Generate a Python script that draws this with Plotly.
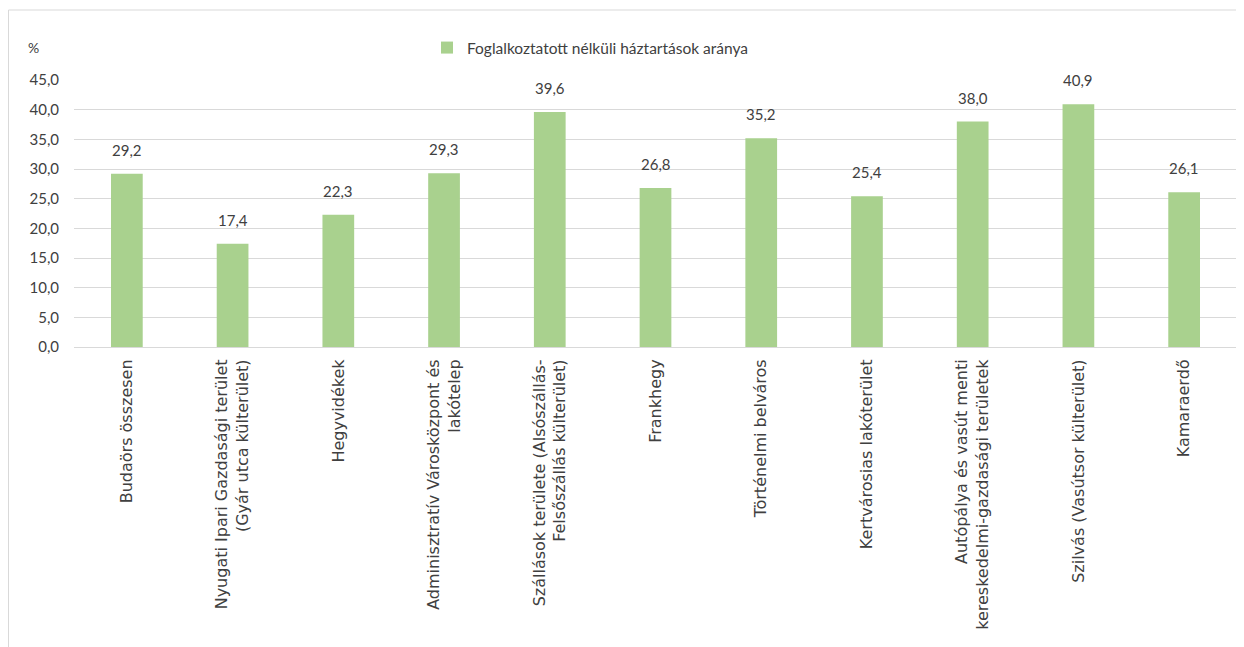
import plotly.graph_objects as go

categories = [
    "Budaörs összesen",
    "Nyugati Ipari Gazdasági terület<br>(Gyár utca külterület)",
    "Hegyvidékek",
    "Adminisztratív Városközpont és<br>lakótelep",
    "Szállások területe (Alsószállás-<br>Felsőszállás külterület)",
    "Frankhegy",
    "Történelmi belváros",
    "Kertvárosias lakóterület",
    "Autópálya és vasút menti<br>kereskedelmi-gazdasági területek",
    "Szilvás (Vasútsor külterület)",
    "Kamaraerdő",
]
values = [29.2, 17.4, 22.3, 29.3, 39.6, 26.8, 35.2, 25.4, 38.0, 40.9, 26.1]
series_name = "Foglalkoztatott nélküli háztartások aránya"
tick_vals = [0, 5, 10, 15, 20, 25, 30, 35, 40, 45]
tick_text = ["0,0", "5,0", "10,0", "15,0", "20,0", "25,0", "30,0", "35,0", "40,0", "45,0"]

# page has an 8px body margin; figure coords = page coords - 8
W, H = 1236, 639
ml, mr, mt, mb = 66, 7, 72, 300
PW, PH = W - ml - mr, H - mt - mb

def px(xp):
    return (xp - ml) / PW

def py(yp):
    return (H - mb - yp) / PH

LAB = "Lato, Open Sans, sans-serif"
COL = "#404040"

fig = go.Figure()
fig.add_trace(go.Bar(
    x=categories, y=values, name=series_name,
    marker=dict(color="#a9d18e", line=dict(width=0)),
))

annotations = [dict(text="%", xref="paper", yref="paper",
                    x=px(25), y=py(40), xanchor="center", yanchor="middle", showarrow=False,
                    font=dict(family=LAB, size=14, color=COL))]
for c, v in zip(categories, values):
    annotations.append(dict(x=c, y=v, xref="x", yref="y",
                            text=f"{v:.1f}".replace(".", ","),
                            showarrow=False, yanchor="middle", yshift=24,
                            font=dict(family=LAB, size=15, color=COL)))

fig.update_layout(
    width=W, height=H,
    margin=dict(l=ml, r=mr, t=mt, b=mb),
    paper_bgcolor="white", plot_bgcolor="white",
    bargap=0.7,
    showlegend=True,
    legend=dict(orientation="h", x=px(419), xanchor="left", y=py(40), yanchor="middle",
                font=dict(family=LAB, size=15.5, color=COL),
                itemwidth=30, bgcolor="rgba(0,0,0,0)"),
    xaxis=dict(tickangle=-90, showline=True, linecolor="#d9d9d9", linewidth=1,
               ticks="", ticklabelstandoff=5,
               tickfont=dict(family="DejaVu Sans, sans-serif", size=16, color=COL)),
    yaxis=dict(range=[0, 45], tickvals=tick_vals, ticktext=tick_text,
               showgrid=True, gridcolor="#d9d9d9", gridwidth=1, zeroline=False,
               ticks="", tickfont=dict(family=LAB, size=15, color=COL),
               ticklabelstandoff=14),
    annotations=annotations,
    shapes=[
        dict(type="line", xref="paper", yref="paper",
             x0=px(0.5), x1=px(0.5), y0=py(2), y1=py(H),
             line=dict(color="#d9d9d9", width=1)),
        dict(type="line", xref="paper", yref="paper",
             x0=px(0.5), x1=px(W), y0=py(2), y1=py(2),
             line=dict(color="#d9d9d9", width=1)),
    ],
)
fig.write_html("out.html")
